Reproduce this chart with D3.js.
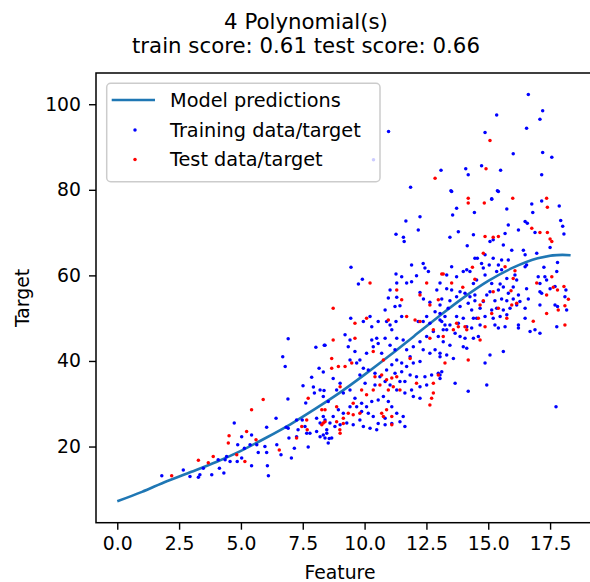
<!DOCTYPE html>
<html>
<head>
<meta charset="utf-8">
<script src="https://d3js.org/d3.v7.min.js"></script>
<style>
  body { margin: 0; background: #fff; }
  svg text { font-family: "DejaVu Sans", sans-serif; fill: #000; }
</style>
</head>
<body>
<div id="container"></div>
<script>
// values
const titleLines = ["4 Polynomial(s)", "train score: 0.61 test score: 0.66"];
const xTicks = [0, 2.5, 5, 7.5, 10, 12.5, 15, 17.5];
const yTicks = [20, 40, 60, 80, 100];

const curveX = [0, 1, 2, 3, 4, 5, 6, 7, 8, 9, 10, 11, 12, 13, 14, 15, 16, 17, 18, 18.33];
const curveY = [7.2, 9.4, 11.9, 14.1, 16.4, 19.0, 22.0, 25.2, 28.8, 32.6, 36.8, 41.2, 45.8, 50.4, 54.8, 58.7, 61.8, 64.0, 64.8, 64.7];

const trainPoints = [
  [6.91,45.2],[8.03,43.2],[8.37,43.7],[6.69,41.0],[6.79,38.7],[8.16,38.3],[8.33,37.4],[7.86,36.2],[7.51,34.2],[7.93,33.9],
  [7.97,32.5],[8.36,33.1],[6.90,31.1],[7.62,30.2],[6.42,26.6],[4.73,25.5],[6.04,24.5],[6.83,24.5],[5.03,22.3],[5.43,22.7],
  [5.64,20.4],[5.37,20.4],[5.97,20.0],[6.45,20.4],[5.70,18.6],[6.04,18.6],[6.62,18.1],[7.04,17.3],[7.16,19.6],[7.31,23.9],
  [7.48,26.2],[7.59,24.7],[7.66,23.1],[7.25,22.3],[6.91,24.3],[6.94,22.0],[7.79,23.1],[8.06,23.5],[8.20,22.3],[8.40,22.0],
  [8.47,23.9],[8.06,26.6],[8.20,25.5],[8.40,26.2],[7.25,26.2],[5.03,17.3],[4.85,16.5],[4.56,16.5],[4.36,16.9],[4.08,16.9],
  [4.42,17.7],[4.13,14.9],[3.82,13.4],[3.48,14.9],[3.34,13.4],[3.28,12.8],[2.94,13.0],[2.67,14.5],[1.80,13.2],[4.31,13.8],
  [5.43,15.5],[6.07,15.5],[6.11,13.2],[5.14,19.6],[4.87,20.4],
  [9.45,61.9],[9.91,59.1],[9.75,58.0],[11.9,62.4],[12.37,62.8],[12.44,61.7],[12.1,59.9],[12.58,60.9],[11.27,60.3],[11.5,59.7],
  [11.3,58.2],[11.7,58.2],[11.9,58.5],[11.03,56.6],[11.3,54.9],[10.96,54.7],[11.43,52.9],[11.23,52.7],[10.83,51.9],[12.24,56.0],
  [12.38,54.5],[12.64,53.7],[12.92,56.6],[13.05,58.2],[12.85,51.5],[12.51,50.4],[12.37,49.2],[12.17,49.2],[12.64,48.8],[13.05,49.6],
  [13.25,48.4],[11.5,50.4],[11.27,49.2],[11.03,48.4],[10.89,49.2],[11.1,47.3],[10.83,45.3],[10.49,45.3],[10.29,44.9],[10.35,43.3],
  [10.55,44.1],[11.3,45.3],[11.56,44.9],[11.7,42.6],[11.97,43.3],[12.24,44.5],[12.51,45.7],[12.78,46.9],[12.98,45.7],[13.18,47.3],
  [12.37,42.6],[12.64,41.8],[12.85,42.6],[13.05,41.0],[12.24,39.9],[11.97,39.5],[11.7,38.7],[11.5,39.5],[11.3,40.2],[11.1,39.1],
  [10.89,37.9],[11.23,37.1],[11.5,37.5],[11.84,36.7],[12.1,36.3],[12.44,36.3],[12.71,36.7],[12.98,37.1],[13.05,35.9],[12.51,34.4],
  [12.24,34.0],[11.9,33.2],[11.63,32.5],[11.97,31.7],[12.24,31.3],[11.3,33.2],[11.03,34.4],[10.83,35.2],[10.62,36.3],[10.42,37.1],
  [10.15,37.9],[9.95,38.3],[9.68,39.5],[9.41,40.2],[9.81,40.2],[10.08,41.8],[9.61,42.2],[9.34,43.3],[9.41,44.9],[9.21,46.1],
  [10.29,48.0],[10.55,49.2],[10.22,50.4],[9.95,49.2],[9.44,50.0],[8.40,43.7],[8.73,35.9],[9.01,34.8],[8.87,33.2],[9.14,32.5],
  [9.41,33.2],[9.61,31.3],[9.88,30.1],[10.08,29.3],[10.29,30.5],[10.55,30.9],[10.76,31.7],[10.96,30.5],[11.1,29.3],[11.3,27.8],
  [11.56,27.0],[11.63,24.7],[11.43,25.8],[11.1,25.4],[10.83,26.6],[10.55,25.4],[10.35,27.0],[10.15,27.8],[9.88,28.2],[9.68,29.3],
  [9.41,29.3],[9.14,27.8],[8.94,28.6],[8.73,27.0],[8.60,25.5],[8.8,24.7],[9.01,25.1],[9.28,25.5],[9.54,25.1],[9.81,26.2],
  [9.95,24.7],[10.22,24.3],[10.49,23.9],[10.83,25.1],[8.33,27.0],[8.47,23.1],[8.67,22.0],[8.53,20.8],[8.33,22.7],[8.20,33.2],
  [8.33,31.7],[8.53,30.5],[10.02,34.8],[10.42,34.4],[11.43,35.2],[11.63,35.2],[9.81,36.7],[11.03,43.7],[11.84,41.0],[10.69,41.8],
  [11.23,42.6],[7.72,19.9],[8.57,21.9],
  [13.52,79.6],[15.41,79.6],[15.14,77.8],[13.72,75.7],[13.56,74.1],[14.44,74.7],[15.75,75.5],[16.76,76.7],[17.16,77.4],[16.8,74.7],
  [17.87,76.2],[17.93,72.8],[18.01,71.5],[18.06,69.7],[16.49,72.6],[16.58,72.2],[15.81,71.8],[16.22,70.6],[15.68,69.8],[16.89,70.0],
  [14.4,69.5],[13.45,68.9],[13.79,70.2],[15.07,67.9],[15.2,68.3],[14.15,66.9],[15.61,67.1],[15.95,65.9],[16.42,65.9],[16.49,64.8],
  [16.96,65.2],[14.87,64.8],[14.46,64.0],[14.56,64.0],[15.2,64.0],[15.54,63.6],[15.81,63.6],[14.73,62.8],[15.04,62.4],[15.41,62.4],
  [13.52,62.0],[14.13,61.3],[13.99,60.9],[14.26,60.9],[14.8,61.7],[15.54,61.3],[16.49,62.0],[16.55,62.4],[13.32,60.1],[13.72,59.7],
  [14.87,60.1],[15.34,60.9],[15.75,59.3],[16.15,58.9],[16.08,60.1],[17.02,59.7],[17.29,59.7],[17.36,58.9],[17.77,60.9],[14.53,58.9],
  [14.4,58.1],[15.14,58.1],[15.48,58.0],[15.61,57.3],[16.01,57.3],[16.55,56.9],[17.09,56.2],[17.16,55.8],[17.5,56.9],[13.32,56.9],
  [13.52,56.6],[13.86,56.2],[14.06,55.8],[13.72,55.0],[14.26,55.0],[14.46,55.4],[14.94,55.4],[15.07,56.2],[15.41,56.6],[15.81,55.8],
  [16.22,55.4],[14.46,54.1],[14.8,53.9],[15.27,54.1],[15.54,54.5],[15.75,54.1],[16.01,54.5],[16.28,53.9],[16.62,54.5],[18.1,55.0],
  [13.12,54.5],[13.45,54.1],[13.05,53.1],[13.38,52.3],[13.86,52.7],[14.19,53.5],[14.33,51.9],[14.67,52.3],[15.14,51.9],[15.34,52.3],
  [15.61,51.9],[15.88,52.3],[16.15,53.1],[16.49,52.3],[17.09,53.1],[17.7,53.1],[18.17,51.9],[13.05,51.1],[13.25,50.4],[13.72,50.4],
  [13.99,50.0],[14.4,50.0],[14.53,50.0],[14.87,50.4],[15.2,50.0],[15.48,50.4],[15.75,50.8],[16.49,50.0],[13.12,49.2],[13.45,48.4],
  [13.79,48.8],[14.13,48.0],[14.33,47.7],[14.67,48.4],[15.27,48.4],[15.41,47.7],[15.68,48.0],[16.22,48.4],[16.22,47.7],[16.69,46.9],
  [16.89,47.3],[17.09,46.5],[17.77,48.0],[13.32,47.3],[13.66,46.5],[13.86,45.7],[14.06,45.3],[14.4,45.3],[14.6,45.7],[13.18,44.5],
  [13.45,43.7],[13.99,43.3],[14.13,43.0],[13.05,41.8],[13.32,41.4],[13.59,40.6],[13.12,37.5],[13.05,36.7],[15.07,41.4],[15.61,42.2],
  [14.87,39.5],[13.66,34.8],[14.94,34.4],[14.19,32.9],[17.74,29.3],
  [17.5,66.5],[17.8,63.0],[17.25,61.9],[17.09,58.1],[17.7,57.4],[18.14,56.6],[17.8,52.7],
  [16.62,102.3],[17.2,98.5],[17.09,96.5],[16.55,94.4],[15.34,97.5],[14.87,93.4],[16.01,88.4],[17.2,88.7],[17.57,87.6],[14.73,85.6],
  [14.09,84.9],[14.19,83.5],[15.5,84.6],[17.16,83.5],[13.09,84.6],[11.86,80.6],[13.49,79.8],[15.37,79.8],[15.14,77.9],
  [11.67,72.7],[11.27,69.6],[11.57,68.9],[11.6,67.9],[12.17,70.6],[12.24,73.7],[10.97,93.6],[10.36,87.0]
];

const testPoints = [
  [5.90,31.0],[5.43,28.6],[5.23,23.5],[4.52,22.5],[3.28,16.8],[2.20,13.2],[3.88,17.7],[3.68,16.2],[4.83,18.1],[5.16,16.5],
  [6.55,19.2],[7.25,22.0],[7.72,31.3],[8.27,28.6],[7.66,26.2],[7.46,24.7],[7.68,23.9],[8.33,25.5],[4.49,20.8],[5.61,21.6],
  [10.22,58.2],[8.73,52.3],[10.08,50.0],[9.61,45.3],[11.5,54.3],[11.3,56.6],[12.24,55.4],[12.51,58.2],[13.12,60.3],[12.98,54.3],
  [12.64,53.1],[11.7,50.4],[10.96,49.6],[12.04,49.6],[12.24,49.2],[12.78,47.3],[12.64,45.3],[11.84,40.6],[10.35,42.2],[10.76,40.2],
  [8.67,40.6],[8.67,38.3],[8.94,38.7],[9.21,38.7],[9.48,39.5],[10.42,36.3],[10.69,36.7],[10.89,35.6],[11.1,36.0],[11.3,36.3],
  [10.35,33.2],[10.62,34.4],[10.96,33.2],[11.16,34.0],[11.43,33.2],[12.1,34.8],[12.78,34.8],[12.78,32.5],[12.71,31.3],[12.64,29.7],
  [12.98,36.7],[9.01,34.0],[9.88,33.2],[10.08,32.1],[9.54,30.1],[9.34,27.8],[9.54,27.4],[9.14,26.6],[8.87,29.3],[8.40,28.6],
  [8.40,25.8],[8.87,25.8],[9.14,25.4],[9.81,27.8],[10.69,27.8],[10.89,28.6],[11.1,27.0],[10.76,27.0],[11.1,25.1],[9.01,23.1],
  [8.27,25.1],[9.61,48.8],[8.73,44.9],[9.0,23.9],
  [14.19,78.0],[14.19,76.9],[14.84,76.9],[15.99,78.0],[17.36,78.0],[17.39,75.9],[14.87,69.1],[15.2,68.9],[15.41,69.1],[14.8,65.2],
  [17.09,70.0],[17.39,70.0],[17.5,68.5],[17.57,67.9],[16.76,71.0],[14.36,61.9],[13.18,60.3],[14.46,59.1],[13.52,58.2],[15.68,62.0],
  [16.08,61.1],[16.01,59.3],[16.96,58.2],[17.63,57.2],[13.97,57.2],[15.2,56.2],[15.92,56.4],[14.8,54.1],[14.67,53.1],[15.95,53.1],
  [16.15,53.5],[15.41,52.3],[15.14,51.1],[18.24,54.4],[17.83,51.9],[17.36,51.1],[16.82,49.3],[18.1,48.4],[15.75,50.0],[14.06,48.0],
  [14.13,47.3],[14.87,48.0],[14.6,50.0],[13.72,48.8],[13.79,48.0],[13.59,47.3],[13.18,45.7],[13.25,39.5],[14.19,40.2],[14.67,44.9],
  [17.57,59.7],[17.8,56.6],[18.06,57.4],[17.36,55.4],[18.1,52.9],
  [15.07,91.5],[14.91,84.9],[12.85,82.7]
];

const legendItems = ["Model predictions", "Training data/target", "Test data/target"];

const svgWidth = 590, svgHeight = 582;
const plotLeft = 96, plotRight = 594.6, plotTop = 73, plotBottom = 522.7;
const dotR = 1.75;

const svg = d3.select("#container")
  .append("svg")
    .attr("width", svgWidth)
    .attr("height", svgHeight);

const x = d3.scaleLinear().domain([-0.86, 19.3]).range([plotLeft, plotRight]);
const y = d3.scaleLinear().domain([2.2, 107.3]).range([plotBottom, plotTop]);

svg.append("clipPath").attr("id", "plot")
  .append("rect")
    .attr("x", plotLeft).attr("y", plotTop)
    .attr("width", plotRight - plotLeft).attr("height", plotBottom - plotTop);

const plot = svg.append("g").attr("clip-path", "url(#plot)");

const line = d3.line()
  .x(d => x(d[0]))
  .y(d => y(d[1]))
  .curve(d3.curveMonotoneX);

plot.append("path")
  .datum(curveX.map((v, i) => [v, curveY[i]]))
  .attr("fill", "none")
  .attr("stroke", "#1f77b4")
  .attr("stroke-width", 2.6)
  .attr("d", line);

plot.append("g")
    .attr("fill", "#0000ff")
  .selectAll("circle")
  .data(trainPoints)
  .join("circle")
    .attr("cx", d => x(d[0]))
    .attr("cy", d => y(d[1]))
    .attr("r", dotR);

plot.append("g")
    .attr("fill", "#ff0000")
  .selectAll("circle")
  .data(testPoints)
  .join("circle")
    .attr("cx", d => x(d[0]))
    .attr("cy", d => y(d[1]))
    .attr("r", dotR);

// axes
const xAxis = svg.append("g")
  .attr("transform", `translate(0,${plotBottom})`)
  .call(d3.axisBottom(x).tickValues(xTicks).tickFormat(d3.format(".1f")).tickSize(7).tickPadding(7).tickSizeOuter(0));
const yAxis = svg.append("g")
  .attr("transform", `translate(${plotLeft},0)`)
  .call(d3.axisLeft(y).tickValues(yTicks).tickSize(7).tickPadding(8).tickSizeOuter(0));

[xAxis, yAxis].forEach(a => {
  a.select(".domain").remove();
  a.selectAll(".tick line").attr("stroke", "#000").attr("stroke-width", 1.4);
  a.selectAll(".tick text")
    .attr("fill", "#000")
    .style("font-family", "DejaVu Sans")
    .style("font-size", "18.8px");
});

svg.append("rect")
  .attr("x", plotLeft).attr("y", plotTop)
  .attr("width", plotRight - plotLeft).attr("height", plotBottom - plotTop)
  .attr("fill", "none")
  .attr("stroke", "#000")
  .attr("stroke-width", 1.5);

// labels
svg.append("text")
  .attr("x", 340).attr("y", 578.5)
  .attr("text-anchor", "middle")
  .style("font-size", "18.8px")
  .text("Feature");

svg.append("text")
  .attr("transform", "translate(28.5,298) rotate(-90)")
  .attr("text-anchor", "middle")
  .style("font-size", "18.8px")
  .text("Target");

svg.selectAll(".title")
  .data(titleLines)
  .join("text")
    .attr("class", "title")
    .attr("x", 306)
    .attr("y", (d, i) => 28.5 + i * 24.7)
    .attr("text-anchor", "middle")
    .style("font-size", "21.3px")
    .text(d => d);

// legend
const legend = svg.append("g");
legend.append("rect")
  .attr("x", 106.7).attr("y", 83.3)
  .attr("width", 273.3).attr("height", 98.4)
  .attr("rx", 4)
  .attr("fill", "#fff").attr("fill-opacity", 0.8)
  .attr("stroke", "#cccccc").attr("stroke-width", 1.5);

const rowY = [100, 130, 159.5];
legend.append("line")
  .attr("x1", 111.7).attr("x2", 155)
  .attr("y1", rowY[0]).attr("y2", rowY[0])
  .attr("stroke", "#1f77b4").attr("stroke-width", 2.6);
legend.append("circle").attr("cx", 135).attr("cy", rowY[1]).attr("r", dotR).attr("fill", "#0000ff");
legend.append("circle").attr("cx", 135).attr("cy", rowY[2]).attr("r", dotR).attr("fill", "#ff0000");

legend.selectAll(".leg")
  .data(legendItems)
  .join("text")
    .attr("class", "leg")
    .attr("x", 170)
    .attr("y", (d, i) => rowY[i])
    .attr("dy", "0.36em")
    .style("font-size", "19.3px")
    .text(d => d);
</script>
</body>
</html>
